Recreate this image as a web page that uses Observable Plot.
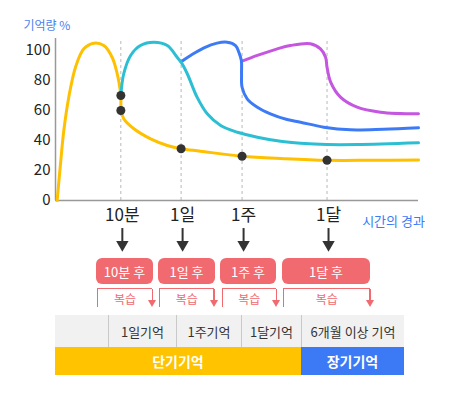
<!DOCTYPE html>
<html><head><meta charset="utf-8">
<script src="https://cdn.jsdelivr.net/npm/d3@7"></script>
<script src="https://cdn.jsdelivr.net/npm/@observablehq/plot@0.6"></script>
<style>
body{margin:0;background:#fff;font-family:"Noto Sans CJK KR","Noto Sans",sans-serif;}
#wrap{position:relative;width:450px;height:397px;overflow:hidden;}
#chart{position:absolute;left:0;top:0;}
.box{position:absolute;top:258px;height:26px;background:#f06a70;border-radius:6px;color:#fff;font-size:13px;display:flex;align-items:center;justify-content:center;}
.br{position:absolute;top:288px;height:19px;border-left:1.5px solid #f06a70;border-top:1.5px solid #f06a70;box-sizing:border-box;}
.br .stem{position:absolute;right:-1px;top:0;width:1.5px;height:12px;background:#f06a70;}
.br .head{position:absolute;right:-4.2px;bottom:0;width:0;height:0;border-left:4px solid transparent;border-right:4px solid transparent;border-top:7px solid #f06a70;}
.br .t{position:absolute;left:0;right:0;top:1px;text-align:center;font-size:12px;color:#f06a70;line-height:18px;}
.cell{position:absolute;top:315px;height:32px;background:#f1f1f1;color:#333;font-size:13px;display:flex;align-items:center;justify-content:center;box-sizing:border-box;}
.band{position:absolute;top:347px;height:28px;color:#fff;font-size:14px;font-weight:700;display:flex;align-items:center;justify-content:center;}
</style></head>
<body><div id="wrap"><div id="chart"></div></div>
<script>
// ---- data ----
const yTicks = [0, 20, 40, 60, 80, 100];
const checkpoints = ["10분", "1일", "1주", "1달"];
const checkpointX = [18.0, 34.6, 51.4, 74.8];

const yellowX = [0.45, 1.38, 2.29, 3.66, 5.51, 7.8, 10.55, 13.3, 15.6, 17.0, 17.7, 18.0, 18.1, 18.8, 21.6, 26.2, 30.8, 34.6, 39.9, 51.4, 63, 74.8, 87, 100];
const yellowY = [0, 24.5, 46.7, 68.9, 88.9, 101.1, 104.9, 103.3, 95.5, 84.5, 75.5, 70, 60, 54.5, 47.8, 41.1, 36.7, 34.5, 32.9, 29.5, 27.9, 26.8, 26.8, 27.0];

const cyanX = [18.0, 18.8, 20.7, 23.4, 27.1, 30.8, 33.5, 34.6, 36.3, 39.0, 41.8, 45.5, 50.1, 55.6, 62, 67.5, 74.8, 83.1, 100];
const cyanY = [70, 84.5, 96.7, 103.3, 105.5, 103.3, 95.5, 92.2, 84.5, 68.9, 57.8, 50, 45.5, 42.2, 39.5, 38.2, 37.3, 37.3, 38.5];

const blueX = [34.6, 37.2, 40.9, 44.5, 47.3, 49.6, 50.5, 51.2, 51.25, 51.4, 52.8, 55.6, 59.2, 63.8, 67.5, 73.9, 81.3, 90.4, 100];
const blueY = [92.5, 96.7, 101.8, 104.9, 105.5, 103.3, 98.9, 93.3, 84.5, 75.5, 67.8, 62.2, 57.8, 54, 52.2, 48.9, 47.1, 47.5, 48.5];

const purpleX = [51.4, 55.6, 61.1, 64.7, 70.2, 73.0, 74.4, 74.8, 75.8, 78.5, 83.1, 89.5, 100];
const purpleY = [92.9, 96.7, 101.1, 103.3, 104.5, 101.1, 95.5, 88.9, 78.9, 68.9, 62.2, 58.9, 57.8];

const dotX = [18.0, 18.0, 34.6, 51.4, 74.8];
const dotY = [70, 60, 34.5, 29.5, 26.8];

const reviewLabels = ["10분 후", "1일 후", "1주 후", "1달 후"];
const reviewText = "복습";
const memoryCols = ["", "1일기억", "1주기억", "1달기억", "6개월 이상 기억"];
const memoryTypes = ["단기기억", "장기기억"];
const yLabel = "기억량 %";
const xLabel = "시간의 경과";

// ---- build ----
const FONT = "'Noto Sans CJK KR', 'Noto Sans', sans-serif";
const toRows = (xs, ys) => xs.map((x, i) => ({x, y: ys[i]}));
const series = [
  {rows: toRows(yellowX, yellowY), color: "#ffc000"},
  {rows: toRows(purpleX, purpleY), color: "#c456e0"},
  {rows: toRows(blueX, blueY), color: "#3d7bf6"},
  {rows: toRows(cyanX, cyanY), color: "#2cbfd4"}
];
const dots = toRows(dotX, dotY);

const plot = Plot.plot({
  width: 450, height: 260,
  marginLeft: 55, marginRight: 32, marginTop: 50, marginBottom: 60,
  x: {domain: [0, 100], axis: null},
  y: {domain: [0, 100], axis: null},
  style: {fontFamily: FONT, background: "transparent", overflow: "visible"},
  marks: [
    Plot.ruleX(checkpointX, {y1: 0, y2: 108, stroke: "#b8b8b8", strokeDasharray: "3,3", strokeWidth: 1}),
    Plot.ruleY([0], {x1: 0, x2: 100, stroke: "#999", strokeWidth: 1.5}),
    Plot.ruleX([0], {y1: 0, y2: 108, stroke: "#999", strokeWidth: 1.5}),
    Plot.axisY({ticks: yTicks, label: null, tickSize: 0, tickPadding: 5, fontSize: 15, color: "#222", fontFamily: FONT}),
    ...series.map(s => Plot.line(s.rows, {x: "x", y: "y", stroke: s.color, strokeWidth: 3, curve: "catmull-rom"})),
    Plot.dot(dots, {x: "x", y: "y", r: 4.5, fill: "#333"}),
    Plot.text(checkpoints, {x: (d, i) => checkpointX[i], frameAnchor: "bottom", lineAnchor: "middle", dy: 15, dx: 1.5, fontSize: 17, fill: "#222", fontFamily: FONT}),
    Plot.ruleX(checkpointX, {y1: -18.7, y2: -28.5, stroke: "#333", strokeWidth: 2, dx: 1.5}),
    Plot.dot(checkpointX, {x: d => d, y: -29.4, symbol: "triangle", r: 4.6, fill: "#333", rotate: 180, dx: 1.5}),
    Plot.text([yLabel], {frameAnchor: "top-left", dx: -32, dy: -24, textAnchor: "start", lineAnchor: "middle", fontSize: 12, fill: "#4a7ff0", fontFamily: FONT}),
    Plot.text([xLabel], {frameAnchor: "bottom-right", textAnchor: "middle", lineAnchor: "middle", dx: -25, dy: 21, fontSize: 13, fill: "#3d7bf6", fontFamily: FONT})
  ]
});
document.getElementById("chart").appendChild(plot);

const wrap = document.getElementById("wrap");
const boxLeft = [96, 158, 220, 282], boxWidth = [57, 57, 56, 88];
reviewLabels.forEach((lab, i) => {
  const b = document.createElement("div");
  b.className = "box"; b.style.left = boxLeft[i] + "px"; b.style.width = boxWidth[i] + "px";
  b.textContent = lab; wrap.appendChild(b);
});
const brLeft = [97, 159, 221.5, 283], brRight = [152, 213.5, 276, 369.5];
brLeft.forEach((l, i) => {
  const d = document.createElement("div");
  d.className = "br"; d.style.left = l + "px"; d.style.width = (brRight[i] - l) + "px";
  d.innerHTML = `<div class="stem"></div><div class="head"></div><div class="t">${reviewText}</div>`;
  wrap.appendChild(d);
});
const colEdges = [55, 108, 176, 241, 301, 404];
memoryCols.forEach((c, i) => {
  const d = document.createElement("div");
  d.className = "cell"; d.style.left = colEdges[i] + "px"; d.style.width = (colEdges[i + 1] - colEdges[i]) + "px";
  if (i > 0) d.style.borderLeft = "1px solid #c9c9c9";
  d.textContent = c; wrap.appendChild(d);
});
const bandEdges = [55, 301, 404], bandColors = ["#ffc300", "#3c7af5"];
memoryTypes.forEach((t, i) => {
  const d = document.createElement("div");
  d.className = "band"; d.style.left = bandEdges[i] + "px"; d.style.width = (bandEdges[i + 1] - bandEdges[i]) + "px";
  d.style.background = bandColors[i]; d.textContent = t; wrap.appendChild(d);
});
</script></body></html>
